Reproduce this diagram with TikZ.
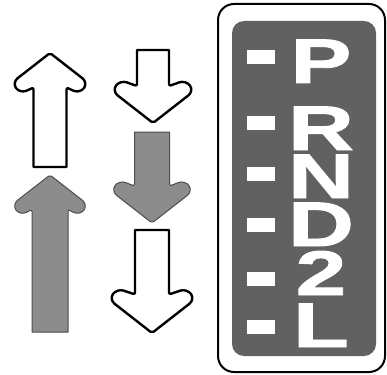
\documentclass[tikz,border=0pt]{standalone}
\usepackage{fontspec}
\setmainfont{Liberation Sans}
\newfontfamily\gearfont[FakeStretch=1.45, FakeBold=1.5]{Liberation Sans Bold}
\tikzset{
  outl/.style={draw=black, line width=2.4pt, fill=white, line join=round},
  grayarr/.style={draw=black!70, line width=1pt, fill=black!45, line join=round},
  gear/.style={text=white, inner sep=0pt, anchor=base, text height=45pt, text depth=0pt,
    font=\fontsize{63}{63}\gearfont},
  dashmark/.style={fill=white, draw=none, minimum width=28pt, minimum height=14pt, inner sep=0pt},
  pics/arr/.style n args={3}{code={
    \draw[pic actions]
      (0,0) [rounded corners=7] -- (#1+1,{0.8*#1}) -- (#1-7,{0.8*#1+11}) [rounded corners=2] -- (#2,{0.8*#1+5}) [sharp corners] -- (#2,#3)
      -- (-#2,#3) [rounded corners=2] -- (-#2,{0.8*#1+5}) [rounded corners=7] -- (-#1+7,{0.8*#1+11}) -- (-#1-1,{0.8*#1}) [rounded corners=2] -- cycle;
  }},
}
\begin{document}
\begin{tikzpicture}[x=1pt,y=-1pt]
\useasboundingbox (0,0) rectangle (387,374);
% left column
\pic[outl] (upw) at (50,53) {arr={37}{16.5}{114}};
\pic[grayarr] (upg) at (50,175) {arr={37}{18}{157}};
% right column
\pic[outl, rotate=180] (dw1) at (153,123) {arr={40}{16}{73}};
\pic[grayarr, rotate=180] (dg) at (152,223) {arr={40}{17.5}{91}};
\pic[outl, rotate=180] (dw2) at (152,333) {arr={42}{17}{103}};
% panel
\draw[line width=2pt, rounded corners=16] (218,4) rectangle (385,372);
\fill[black!62, rounded corners=12] (232,21) rectangle (376,356);
% dashes
\node[dashmark] (d1) at (261,57) {};
\node[dashmark] (d2) at (261,123) {};
\node[dashmark] (d3) at (261,174) {};
\node[dashmark] (d4) at (261,225) {};
\node[dashmark] (d5) at (261,279) {};
\node[dashmark] (d6) at (261,327) {};
% letters
\node[gear] (lP) at (321,83) {P};
\node[gear] (lR) at (321,150) {R};
\node[gear] (lN) at (321,198) {N};
\node[gear] (lD) at (321,246) {D};
\node[gear] (l2) at (321,295) {2};
\node[gear] (lL) at (321,347) {L};
\end{tikzpicture}
\end{document}
